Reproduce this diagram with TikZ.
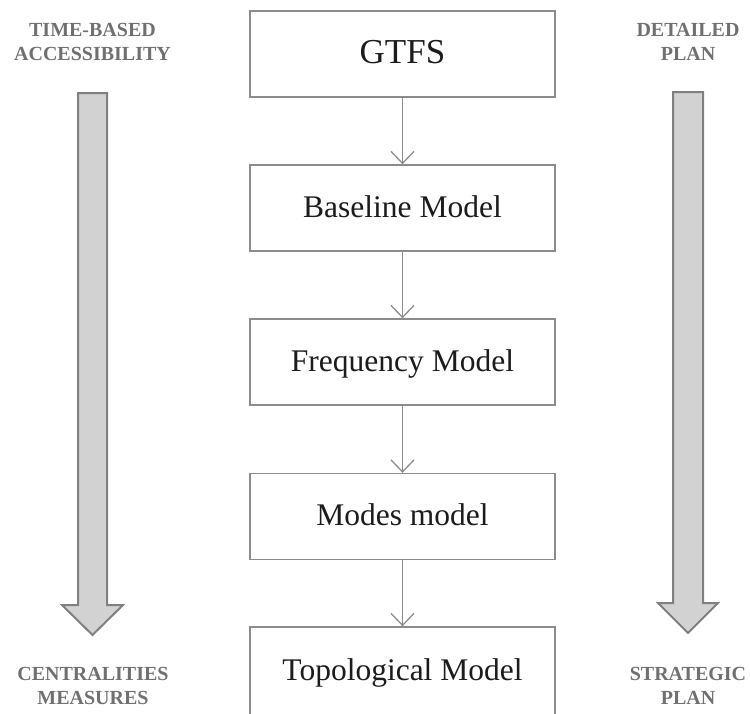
\documentclass[tikz,border=0pt]{standalone}
\usepackage{fontspec}
\setmainfont{Liberation Serif}
\usetikzlibrary{arrows.meta}
\definecolor{boxline}{HTML}{8C8C8C}
\definecolor{boxtext}{HTML}{1C1C1C}
\definecolor{labeltext}{HTML}{707070}
\definecolor{bigfill}{HTML}{D2D2D2}
\definecolor{bigline}{HTML}{808080}
\tikzset{
  stepbox/.style={draw=boxline, line width=1.4pt, fill=white, minimum width=305pt,
    minimum height=86pt, inner sep=0pt, text=boxtext,
    font=\fontsize{31.5}{36}\selectfont, text height=21pt, text depth=3pt},
  sidelabel/.style={text=labeltext, font=\fontsize{20}{24}\bfseries\selectfont,
    align=center, inner sep=0pt, anchor=north},
  flow/.style={draw=boxline, line width=1.3pt, -{Straight Barb[length=12pt,width=23pt,line width=1.3pt]}},
  bigarrow/.style={draw=bigline, fill=bigfill, line width=2pt, line join=miter}
}
\begin{document}
\begin{tikzpicture}[x=1pt,y=-1pt]
\useasboundingbox (0,0) rectangle (750,713);
% boxes
\node[stepbox, font=\fontsize{35}{40}\selectfont, text height=24pt, text depth=5.4pt] (gtfs) at (402.5,54) {GTFS};
\node[stepbox] (base) at (402.5,208) {Baseline Model};
\node[stepbox] (freq) at (402.5,362) {Frequency Model};
\node[stepbox] (modes) at (402.5,516.5) {Modes model};
\node[stepbox, minimum height=92pt, text depth=6pt] (topo) at (402.5,673) {Topological Model};
% connectors
\draw[flow] (gtfs.south) -- (base.north);
\draw[flow] (base.south) -- (freq.north);
\draw[flow] (freq.south) -- (modes.north);
\draw[flow] (modes.south) -- (topo.north);
% side labels
\node[sidelabel] (tl) at (92.5,22.7) {TIME-BASED\\ACCESSIBILITY};
\node[sidelabel] (bl) at (93,667.3) {CENTRALITIES\\MEASURES};
\node[sidelabel] (tr) at (688,22.7) {DETAILED\\PLAN};
\node[sidelabel] (br) at (688,667.3) {STRATEGIC\\PLAN};
% big arrows
\draw[bigarrow] (78,93) -- (107,93) -- (107,605) -- (123,605) -- (92.5,635) -- (62,605) -- (78,605) -- cycle;
\draw[bigarrow] (673,92) -- (703,92) -- (703,603) -- (718,603) -- (688,633) -- (658,603) -- (673,603) -- cycle;
\end{tikzpicture}
\end{document}
